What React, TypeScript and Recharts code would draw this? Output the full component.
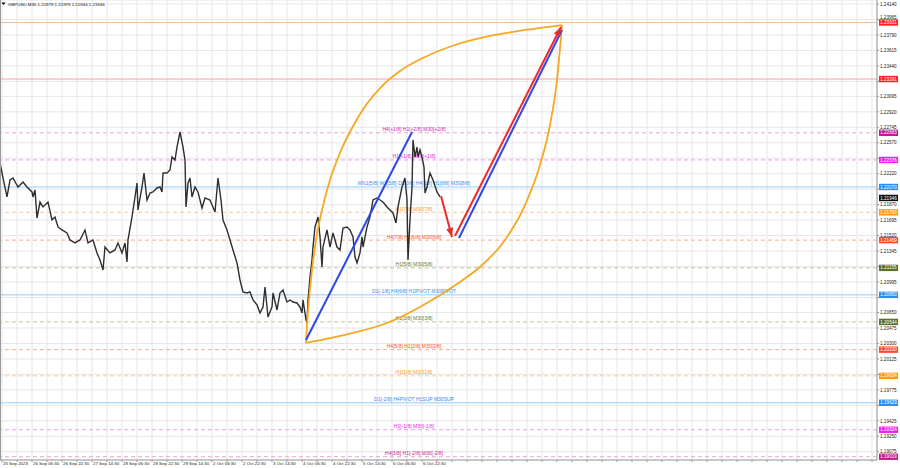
import {
  ComposedChart,
  Line,
  XAxis,
  YAxis,
  CartesianGrid,
  ReferenceLine,
} from "recharts";

// x is the chart column (about one M30 bar per unit), y is the price
const priceX = [
  0, 3, 7, 10, 13, 18, 23, 27, 32, 33, 35, 37, 40, 43, 48, 52, 55, 58, 62, 67,
  70, 75, 80, 85, 88, 93, 97, 100, 103, 105, 110, 115, 118, 122, 125, 127, 128,
  132, 135, 137, 138, 142, 144, 147, 150, 153, 157, 160, 162, 163, 167, 170,
  172, 175, 177, 180, 183, 185, 186, 188, 190, 192, 195, 198, 202, 205, 210,
  215, 218, 221, 223, 227, 230, 233, 237, 240, 243, 247, 250, 253, 257, 260,
  263, 265, 268, 272, 273, 277, 280, 283, 287, 290, 293, 297, 300, 302, 303,
  306, 307, 308, 310, 312, 313, 315, 318, 320, 322, 323, 327, 330, 333, 337,
  340, 343, 347, 350, 353, 355, 357, 360, 362, 363, 367, 370, 373, 377, 380,
  383, 387, 390, 393, 396, 398, 402, 405, 407, 408, 410, 412, 413, 415, 417,
  418, 420, 422, 424, 425, 427, 430, 433, 437, 440,
];
const priceClose = [
  1.22342, 1.22172, 1.21957, 1.22149, 1.22172, 1.2207, 1.22127, 1.2207, 1.22014,
  1.21957, 1.22036, 1.21719, 1.219, 1.21844, 1.219, 1.21697, 1.21731, 1.21618,
  1.21584, 1.2155, 1.21471, 1.21437, 1.21471, 1.21584, 1.21437, 1.21471,
  1.21324, 1.21244, 1.21131, 1.21391, 1.21324, 1.21358, 1.21437, 1.21324,
  1.21437, 1.21222, 1.21471, 1.21731, 1.21957, 1.22115, 1.2181, 1.2207,
  1.22228, 1.21923, 1.22002, 1.22014, 1.22059, 1.2207, 1.22014, 1.22228,
  1.22228, 1.22262, 1.22409, 1.22375, 1.22522, 1.22692, 1.22522, 1.22375,
  1.21844, 1.22115, 1.22172, 1.21957, 1.2207, 1.22014, 1.21832, 1.21946,
  1.21923, 1.21787, 1.22172, 1.21923, 1.21697, 1.21584, 1.21471, 1.21358,
  1.21211, 1.21018, 1.20883, 1.20871, 1.20883, 1.20792, 1.20736, 1.20645,
  1.20713, 1.20939, 1.206, 1.20713, 1.20871, 1.20679, 1.20871, 1.20905,
  1.20769, 1.20792, 1.20769, 1.20758, 1.20713, 1.20645, 1.20792, 1.20566,
  1.20532, 1.20792, 1.21052, 1.21244, 1.21391, 1.21618, 1.21731, 1.21505,
  1.21165, 1.21391, 1.21584, 1.21391, 1.2155, 1.21391, 1.21358, 1.21606,
  1.21618, 1.21584, 1.21505, 1.21278, 1.21211, 1.21324, 1.21505, 1.21391,
  1.21618, 1.21731, 1.21923, 1.21946, 1.21923, 1.219, 1.21844, 1.2181,
  1.21776, 1.21663, 1.21844, 1.2207, 1.22172, 1.21923, 1.21244, 1.21697,
  1.2207, 1.22602, 1.22409, 1.22522, 1.22409, 1.22489, 1.22409, 1.22296,
  1.22002, 1.2207, 1.22228, 1.22149, 1.22014, 1.21957,
];

// hand drawn objects
const blueUpX = [306, 412];
const blueUpY = [1.2034, 1.22692];
const blueProjX = [459, 562];
const blueProjY = [1.21493, 1.23846];
const redDownX = [441, 452];
const redDownY = [1.21968, 1.21505];
const redUpX = [455, 561];
const redUpY = [1.21516, 1.2388];
const arcTopX = [306, 307, 309, 312, 316, 322, 330, 340, 352, 366, 382, 400, 425, 455, 490, 525, 562];
const arcTopY = [
  1.20306, 1.20509, 1.20792, 1.21131, 1.21471, 1.2181, 1.22149, 1.22455,
  1.22737, 1.22997, 1.23212, 1.23382, 1.2354, 1.23676, 1.23778, 1.23846,
  1.23902,
];
const arcLowX = [306, 353, 387, 420, 460, 480, 505, 525, 540, 550, 557, 562];
const arcLowY = [
  1.20306, 1.20419, 1.20532, 1.20713, 1.20996, 1.21165, 1.21471, 1.21866,
  1.22319, 1.22771, 1.2328, 1.23902,
];

const levelPrices = [
  1.23931, 1.23291, 1.22683, 1.22376, 1.2207, 1.21783, 1.21469, 1.21155,
  1.2085, 1.20544, 1.2023, 1.19934, 1.19629, 1.19324, 1.19019,
];
const levelNames = [
  "",
  "",
  "H4[+1/8] H1[+2/8] M30[+2/8]",
  "H1[+1/8] M30[+1/8]",
  "MN1[5/8] W1[5/8] D1[0/8] H4[8/8] H1[8/8] M30[8/8]",
  "H1[7/8] M30[7/8]",
  "H4[7/8] H1[6/8] M30[6/8]",
  "H1[5/8] M30[5/8]",
  "D1[-1/8] H4[6/8] H1PIVOT M30PIVOT",
  "H1[3/8] M30[3/8]",
  "H4[5/8] H1[2/8] M30[2/8]",
  "H1[1/8] M30[1/8]",
  "D1[-2/8] H4PIVOT H1SUP M30SUP",
  "H1[-1/8] M30[-1/8]",
  "H4[3/8] H1[-2/8] M30[-2/8]",
];
const lastPrice = 1.21946;

const yTicks = [
  1.2414, 1.23965, 1.2379, 1.23615, 1.2344, 1.23265, 1.23095, 1.2292, 1.22745,
  1.2257, 1.22395, 1.2222, 1.22045, 1.2187, 1.21695, 1.2152, 1.21345, 1.2117,
  1.20995, 1.2082, 1.2065, 1.20475, 1.203, 1.20125, 1.1995, 1.19775, 1.196,
  1.19425, 1.1925, 1.19075,
];
const timeLabels = [
  "25 Sep 2023", "26 Sep 06:30", "26 Sep 22:30", "27 Sep 14:30", "28 Sep 06:30",
  "28 Sep 22:30", "29 Sep 14:30", "2 Oct 06:30", "2 Oct 22:30", "3 Oct 14:30",
  "4 Oct 06:30", "4 Oct 22:30", "5 Oct 14:30", "6 Oct 06:30", "6 Oct 22:30",
];

const W = 900;
const H = 468;
const PLOT_W = 877;
const Y_DOMAIN: [number, number] = [1.18982, 1.24185];
const PX_PER_PRICE = 460 / (Y_DOMAIN[1] - Y_DOMAIN[0]);
const LABEL_CX = 414;

const BLUE = { line: "#92ccf8", dash: false, text: "#2b8ef0", box: "#2b8ef0" };
const MAG = { line: "#f09cf0", dash: true, text: "#f020f0", box: "#f020f0" };
const ORG = { line: "#ffc890", dash: true, text: "#ff9a10", box: "#ff9a10" };
const ORED = { line: "#f8ac94", dash: true, text: "#ff4a20", box: "#ff4a20" };
const OLV = { line: "#c4c4a0", dash: true, text: "#5f7a2a", box: "#5b702c" };
const levelStyles = [
  { line: "#f9bc88", dash: false, text: "#f00", box: "#ff2020" },
  { line: "#f5a0a0", dash: false, text: "#f00", box: "#ff2020" },
  { line: "#e6a8dc", dash: true, text: "#d820b8", box: "#c4189c" },
  MAG, BLUE, ORG, ORED, OLV, BLUE, OLV, ORED, ORG, BLUE, MAG,
  { line: "#eaa2d2", dash: true, text: "#d0208c", box: "#c8188a" },
];

const xTicks: number[] = [];
for (let k = 0; k * 15 + 2 < PLOT_W; k++) xTicks.push(2 + k * 15);

const toPts = (xs: number[], ys: number[]) => xs.map((x, i) => ({ x, y: ys[i] }));

function arrowHead(color: string, xs: number[], ys: number[]) {
  return (p: any) => {
    const { cx, cy, index, points } = p;
    if (index !== xs.length - 1) return <g key={`n${index}`} />;
    let a: number;
    if (points && points.length > 1) {
      a = Math.atan2(points[1].y - points[0].y, points[1].x - points[0].x);
    } else {
      a = Math.atan2(-(ys[1] - ys[0]) * PX_PER_PRICE, xs[1] - xs[0]);
    }
    const L = 9;
    const hw = 3.5;
    const bx = cx - L * Math.cos(a);
    const by = cy - L * Math.sin(a);
    const ox = -Math.sin(a) * hw;
    const oy = Math.cos(a) * hw;
    return (
      <path
        key={`a${index}`}
        d={`M${cx},${cy}L${bx + ox},${by + oy}L${bx - ox},${by - oy}Z`}
        fill={color}
      />
    );
  };
}

function levelLabel(price: number, name: string, st: any) {
  return (p: any) => {
    const { x, y, width } = p.viewBox;
    return (
      <g>
        {name ? (
          <text x={x + LABEL_CX} y={y - 1.6} textAnchor="middle" fontSize={5} fill={st.text}>
            {name}
          </text>
        ) : null}
        <rect x={x + width + 2} y={y - 3.2} width={19} height={6.4} fill={st.box} />
        <text x={x + width + 11.5} y={y + 1.6} textAnchor="middle" fontSize={4.6} fill="#fff">
          {price.toFixed(5)}
        </text>
      </g>
    );
  };
}

function PriceTick(p: any) {
  const v = p.payload.value as number;
  const boxes = [...levelPrices, lastPrice];
  const covered = boxes.some((l) => Math.abs(l - v) < 0.00031);
  if (covered) return <g />;
  // a box just below the tick pushes the text up, as the terminal does
  const near = boxes.find((l) => l < v && v - l < 0.0006);
  const shift = near !== undefined ? -(0.0006 - (v - near)) * PX_PER_PRICE : 0;
  return (
    <text x={p.x + 1} y={p.y + 1.7 + shift} fontSize={4.6} fill="#222" textAnchor="start">
      {v.toFixed(5)}
    </text>
  );
}

function TimeTick(p: any) {
  const k = Math.round((p.payload.value - 2) / 15);
  const label = k % 2 === 0 ? timeLabels[k / 2] : undefined;
  if (!label) return <g />;
  return (
    <text x={p.x + 1} y={p.y + 3} fontSize={4.4} fill="#222" textAnchor="start">
      {label}
    </text>
  );
}

export default function App() {
  return (
    <div style={{ position: "relative", width: W, height: H, background: "#fff", fontFamily: "'Liberation Sans', Arial, sans-serif" }}>
      <style>{`body{margin:0}`}</style>
      <ComposedChart width={W} height={H} margin={{ top: 0, right: 0, bottom: 0, left: 0 }}>
        <CartesianGrid stroke="#e6e6e6" />
        <XAxis
          type="number"
          dataKey="x"
          domain={[0, PLOT_W]}
          ticks={xTicks}
          interval={0}
          allowDataOverflow
          height={8}
          stroke="#9a9a9a"
          tickSize={2}
          tickMargin={0}
          tick={(p: any) => <TimeTick {...p} />}
        />
        <YAxis
          type="number"
          dataKey="y"
          orientation="right"
          domain={Y_DOMAIN}
          ticks={yTicks}
          interval={0}
          allowDataOverflow
          width={23}
          stroke="#9a9a9a"
          tickSize={2}
          tickMargin={0}
          tick={(p: any) => <PriceTick {...p} />}
        />
        {levelPrices.map((lv, i) => (
          <ReferenceLine
            key={`lv${i}`}
            y={lv}
            stroke={levelStyles[i].line}
            strokeWidth={1}
            strokeDasharray={levelStyles[i].dash ? "4 3" : undefined}
            label={levelLabel(lv, levelNames[i], levelStyles[i])}
          />
        ))}
        <ReferenceLine
          y={lastPrice}
          stroke="none"
          strokeOpacity={0}
          label={levelLabel(lastPrice, "", { text: "#000", box: "#111" })}
        />
        <Line
          data={toPts(priceX, priceClose)}
          dataKey="y"
          type="linear"
          stroke="#2e2e2e"
          strokeWidth={1.4}
          dot={false}
          isAnimationActive={false}
        />
        <Line data={toPts(arcTopX, arcTopY)} dataKey="y" type="monotone" stroke="#f6a821" strokeWidth={1.8} dot={false} isAnimationActive={false} />
        <Line data={toPts(arcLowX, arcLowY)} dataKey="y" type="monotone" stroke="#f6a821" strokeWidth={1.8} dot={false} isAnimationActive={false} />
        <Line data={toPts(blueUpX, blueUpY)} dataKey="y" type="linear" stroke="#2e48e8" strokeWidth={2} dot={false} isAnimationActive={false} />
        <Line data={toPts(blueProjX, blueProjY)} dataKey="y" type="linear" stroke="#2e48e8" strokeWidth={2} dot={false} isAnimationActive={false} />
        <Line
          data={toPts(redDownX, redDownY)}
          dataKey="y"
          type="linear"
          stroke="#ee2a2a"
          strokeWidth={2}
          dot={arrowHead("#ee2a2a", redDownX, redDownY)}
          isAnimationActive={false}
        />
        <Line
          data={toPts(redUpX, redUpY)}
          dataKey="y"
          type="linear"
          stroke="#ee2a2a"
          strokeWidth={2}
          dot={arrowHead("#ee2a2a", redUpX, redUpY)}
          isAnimationActive={false}
        />
      </ComposedChart>
      <svg width={200} height={10} style={{ position: "absolute", left: 0, top: 0 }}>
        <path d="M1.5,2.5L5.5,2.5L3.5,5Z" fill="#000" />
        <text x={8} y={5.8} fontSize={4.4} fill="#111">
          GBPUSD,M30  1.21979 1.21979 1.21944 1.21946
        </text>
      </svg>
      <div style={{ position: "absolute", left: 0, top: 0, width: 1, height: 460, background: "#9a9a9a" }} />
    </div>
  );
}
